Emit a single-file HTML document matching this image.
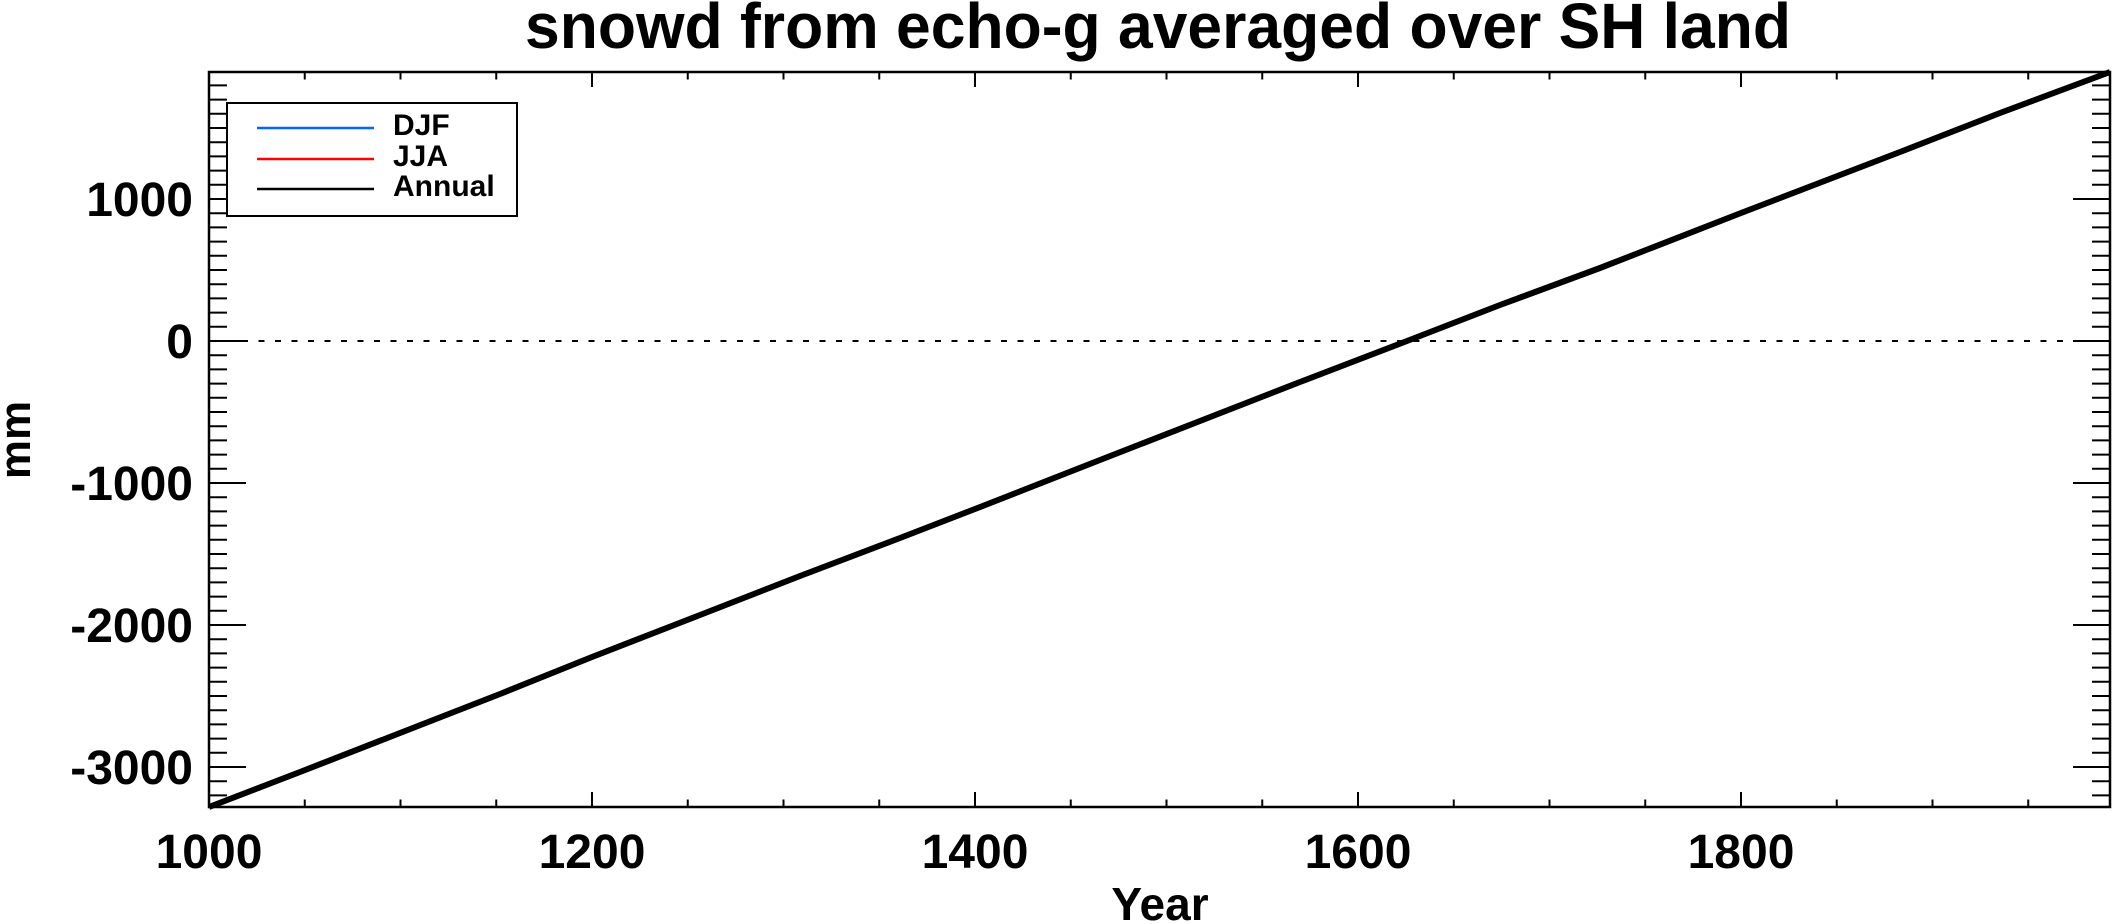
<!DOCTYPE html>
<html><head><meta charset="utf-8"><style>html,body{margin:0;padding:0;background:#fff}svg{display:block}</style></head>
<body>
<svg width="2112" height="924" viewBox="0 0 2112 924" xmlns="http://www.w3.org/2000/svg" font-family="Liberation Sans, Arial, sans-serif" font-weight="bold">
<rect width="2112" height="924" fill="#fff"/>
<text x="1158" y="48" font-size="64" text-anchor="middle" textLength="1266" lengthAdjust="spacingAndGlyphs">snowd from echo-g averaged over SH land</text>
<line x1="209" y1="341" x2="2110" y2="341" stroke="#000" stroke-width="2" stroke-dasharray="6 10.5"/>
<polyline fill="none" stroke="#000" stroke-width="6" stroke-linejoin="round" points="209,807 300,772 400,733 500,694 592,657 700,615 800,576 900,538 975,509 1100,460 1200,421 1300,382 1407,341 1500,305 1600,268 1741,213 1900,152 2000,113 2110,72"/>
<rect x="209" y="72" width="1901" height="735" fill="none" stroke="#000" stroke-width="2.5"/>
<g stroke="#000" stroke-width="2" fill="none">
<path d="M209 85.4h18
m-18 14.2h18m-18 14.2h18m-18 14.2h18m-18 14.2h18m-18 14.2h18m-18 14.2h18m-18 14.2h18m-18 14.2h18m-18 14.2h18m-18 14.2h18
m-18 14.2h18m-18 14.2h18m-18 14.2h18m-18 14.2h18m-18 14.2h18m-18 14.2h18m-18 14.2h18m-18 14.2h18m-18 14.2h18m-18 14.2h18
m-18 14.2h18m-18 14.2h18m-18 14.2h18m-18 14.2h18m-18 14.2h18m-18 14.2h18m-18 14.2h18m-18 14.2h18m-18 14.2h18m-18 14.2h18
m-18 14.2h18m-18 14.2h18m-18 14.2h18m-18 14.2h18m-18 14.2h18m-18 14.2h18m-18 14.2h18m-18 14.2h18m-18 14.2h18m-18 14.2h18
m-18 14.2h18m-18 14.2h18m-18 14.2h18m-18 14.2h18m-18 14.2h18m-18 14.2h18m-18 14.2h18m-18 14.2h18m-18 14.2h18m-18 14.2h18"/>
<path d="M2110 85.4h-18
m18 14.2h-18m18 14.2h-18m18 14.2h-18m18 14.2h-18m18 14.2h-18m18 14.2h-18m18 14.2h-18m18 14.2h-18m18 14.2h-18m18 14.2h-18
m18 14.2h-18m18 14.2h-18m18 14.2h-18m18 14.2h-18m18 14.2h-18m18 14.2h-18m18 14.2h-18m18 14.2h-18m18 14.2h-18m18 14.2h-18
m18 14.2h-18m18 14.2h-18m18 14.2h-18m18 14.2h-18m18 14.2h-18m18 14.2h-18m18 14.2h-18m18 14.2h-18m18 14.2h-18m18 14.2h-18
m18 14.2h-18m18 14.2h-18m18 14.2h-18m18 14.2h-18m18 14.2h-18m18 14.2h-18m18 14.2h-18m18 14.2h-18m18 14.2h-18m18 14.2h-18
m18 14.2h-18m18 14.2h-18m18 14.2h-18m18 14.2h-18m18 14.2h-18m18 14.2h-18m18 14.2h-18m18 14.2h-18m18 14.2h-18m18 14.2h-18"/>
<path d="M209 199h37M209 341h37M209 483h37M209 625h37M209 767h37M2110 199h-37M2110 341h-37M2110 483h-37M2110 625h-37M2110 767h-37"/>
<path d="M304.75 807v-7.5M400.5 807v-7.5M496.25 807v-7.5M687.75 807v-7.5M783.5 807v-7.5M879.25 807v-7.5M1070.75 807v-7.5M1166.5 807v-7.5M1262.25 807v-7.5M1453.75 807v-7.5M1549.5 807v-7.5M1645.25 807v-7.5M1836.75 807v-7.5M1932.5 807v-7.5M2028.25 807v-7.5
M592 807v-15M975 807v-15M1358 807v-15M1741 807v-15
M304.75 72v7.5M400.5 72v7.5M496.25 72v7.5M687.75 72v7.5M783.5 72v7.5M879.25 72v7.5M1070.75 72v7.5M1166.5 72v7.5M1262.25 72v7.5M1453.75 72v7.5M1549.5 72v7.5M1645.25 72v7.5M1836.75 72v7.5M1932.5 72v7.5M2028.25 72v7.5
M592 72v15M975 72v15M1358 72v15M1741 72v15"/>
</g>
<g font-size="48" text-anchor="end">
<text x="193" y="216">1000</text>
<text x="193" y="358">0</text>
<text x="193" y="500">-1000</text>
<text x="193" y="642">-2000</text>
<text x="193" y="784">-3000</text>
</g>
<g font-size="48" text-anchor="middle">
<text x="209" y="868">1000</text>
<text x="592" y="868">1200</text>
<text x="975" y="868">1400</text>
<text x="1358" y="868">1600</text>
<text x="1741" y="868">1800</text>
</g>
<text x="1160" y="920" font-size="46" text-anchor="middle">Year</text>
<text transform="translate(30,440) rotate(-90)" font-size="44" text-anchor="middle">mm</text>
<rect x="227" y="103" width="290" height="113" fill="#fff" stroke="#000" stroke-width="2"/>
<line x1="257" y1="128" x2="374" y2="128" stroke="#0066ff" stroke-width="2.5"/>
<line x1="257" y1="159" x2="374" y2="159" stroke="#ff0000" stroke-width="2.5"/>
<line x1="257" y1="189" x2="374" y2="189" stroke="#000" stroke-width="2.5"/>
<g font-size="30">
<text x="393" y="135">DJF</text>
<text x="393" y="166">JJA</text>
<text x="393" y="196">Annual</text>
</g>
</svg>
</body></html>
